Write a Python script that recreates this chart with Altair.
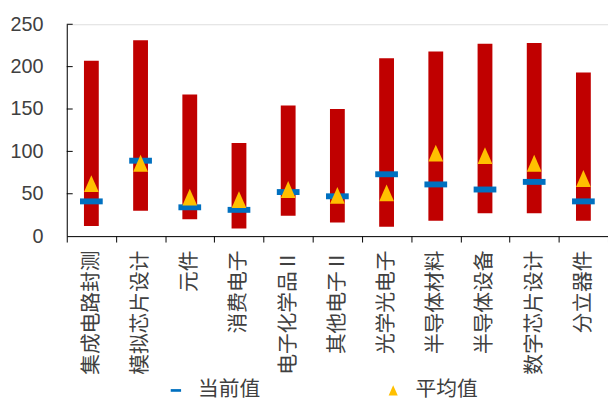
import altair as alt
import pandas as pd

categories = ["集成电路封测", "模拟芯片设计", "元件", "消费电子", "电子化学品Ⅱ", "其他电子Ⅱ",
              "光学光电子", "半导体材料", "半导体设备", "数字芯片设计", "分立器件"]
max_vals = [207, 231, 167, 110, 154, 150, 210, 218, 227, 228, 193]
min_vals = [12, 30, 20, 9, 24, 16, 11, 18, 27, 27, 18]
cur_vals = [41, 89, 34, 31, 52, 47, 73, 61, 55, 64, 41]
avg_vals = [62, 86, 46, 43, 55, 48, 51, 98, 95, 86, 68]
y_ticks = [50, 100, 150, 200, 250]
series_names = ["当前值", "平均值"]

df = pd.DataFrame({"cat": categories, "lo": min_vals, "hi": max_vals})
cur_df = pd.DataFrame({"cat": categories, "v": cur_vals, "series": series_names[0]})
avg_df = pd.DataFrame({"cat": categories, "v": avg_vals, "series": series_names[1]})
tick_df = pd.DataFrame({"t": y_ticks})

DASH = "M-1,-0.26L1,-0.26L1,0.26L-1,0.26Z"
TRI = "M0,-1L0.88,1L-0.88,1Z"

xenc = alt.X("cat:N", sort=categories, title=None,
             scale=alt.Scale(paddingInner=0, paddingOuter=0),
             axis=alt.Axis(labelAngle=270, labelFont="Noto Sans CJK SC", labelFontSize=21,
                           labelColor="#404040", labelPadding=8, tickBand="extent",
                           tickSize=6, tickColor="#000000", domainColor="#000000",
                           labelAlign="right", labelBaseline="middle"))
yscale = alt.Scale(domain=[0, 250], nice=False)
yaxis = alt.Axis(values=[0, 50, 100, 150, 200, 250], ticks=False, grid=False,
                 labelFont="Liberation Sans", labelFontSize=20, labelColor="#404040",
                 labelPadding=24, domainColor="#000000", title=None)

bars = alt.Chart(df).mark_bar(color="#C00000", size=15).encode(
    x=xenc,
    y=alt.Y("lo:Q", scale=yscale, axis=yaxis),
    y2="hi:Q",
)

color_scale = alt.Scale(domain=series_names, range=["#0070C0", "#FFC000"])
shape_scale = alt.Scale(domain=series_names, range=[DASH, TRI])
legend = alt.Legend(title=None, orient="none", legendX=100, legendY=360, direction="horizontal",
                    labelFont="Noto Sans CJK SC", labelFontSize=21, labelColor="#404040",
                    symbolSize=110, labelOffset=12, columnPadding=124, symbolStrokeWidth=0)

cur = alt.Chart(cur_df).mark_point(filled=True, size=529, opacity=1, strokeWidth=0).encode(
    x=alt.X("cat:N", sort=categories),
    y=alt.Y("v:Q", scale=yscale),
    color=alt.Color("series:N", scale=color_scale, legend=legend),
    shape=alt.Shape("series:N", scale=shape_scale, legend=legend),
)
avg = alt.Chart(avg_df).mark_point(filled=True, size=289, opacity=1, strokeWidth=0).encode(
    x=alt.X("cat:N", sort=categories),
    y=alt.Y("v:Q", scale=yscale),
    color=alt.Color("series:N", scale=color_scale, legend=legend),
    shape=alt.Shape("series:N", scale=shape_scale, legend=legend),
)
yt = alt.Chart(tick_df).mark_rule(color="#000000", strokeWidth=1).encode(
    y=alt.Y("t:Q", scale=yscale),
    x=alt.value(0), x2=alt.value(6),
)

chart = alt.layer(bars, cur, avg, yt).properties(
    width=548, height=214.5,
    autosize=alt.AutoSizeParams(type="none"),
    padding={"left": 59.5, "top": 14, "right": 0, "bottom": 167},
).configure_view(stroke=None).configure(background="white")

chart.save("out.html", embed_options={"renderer": "svg", "actions": False})
